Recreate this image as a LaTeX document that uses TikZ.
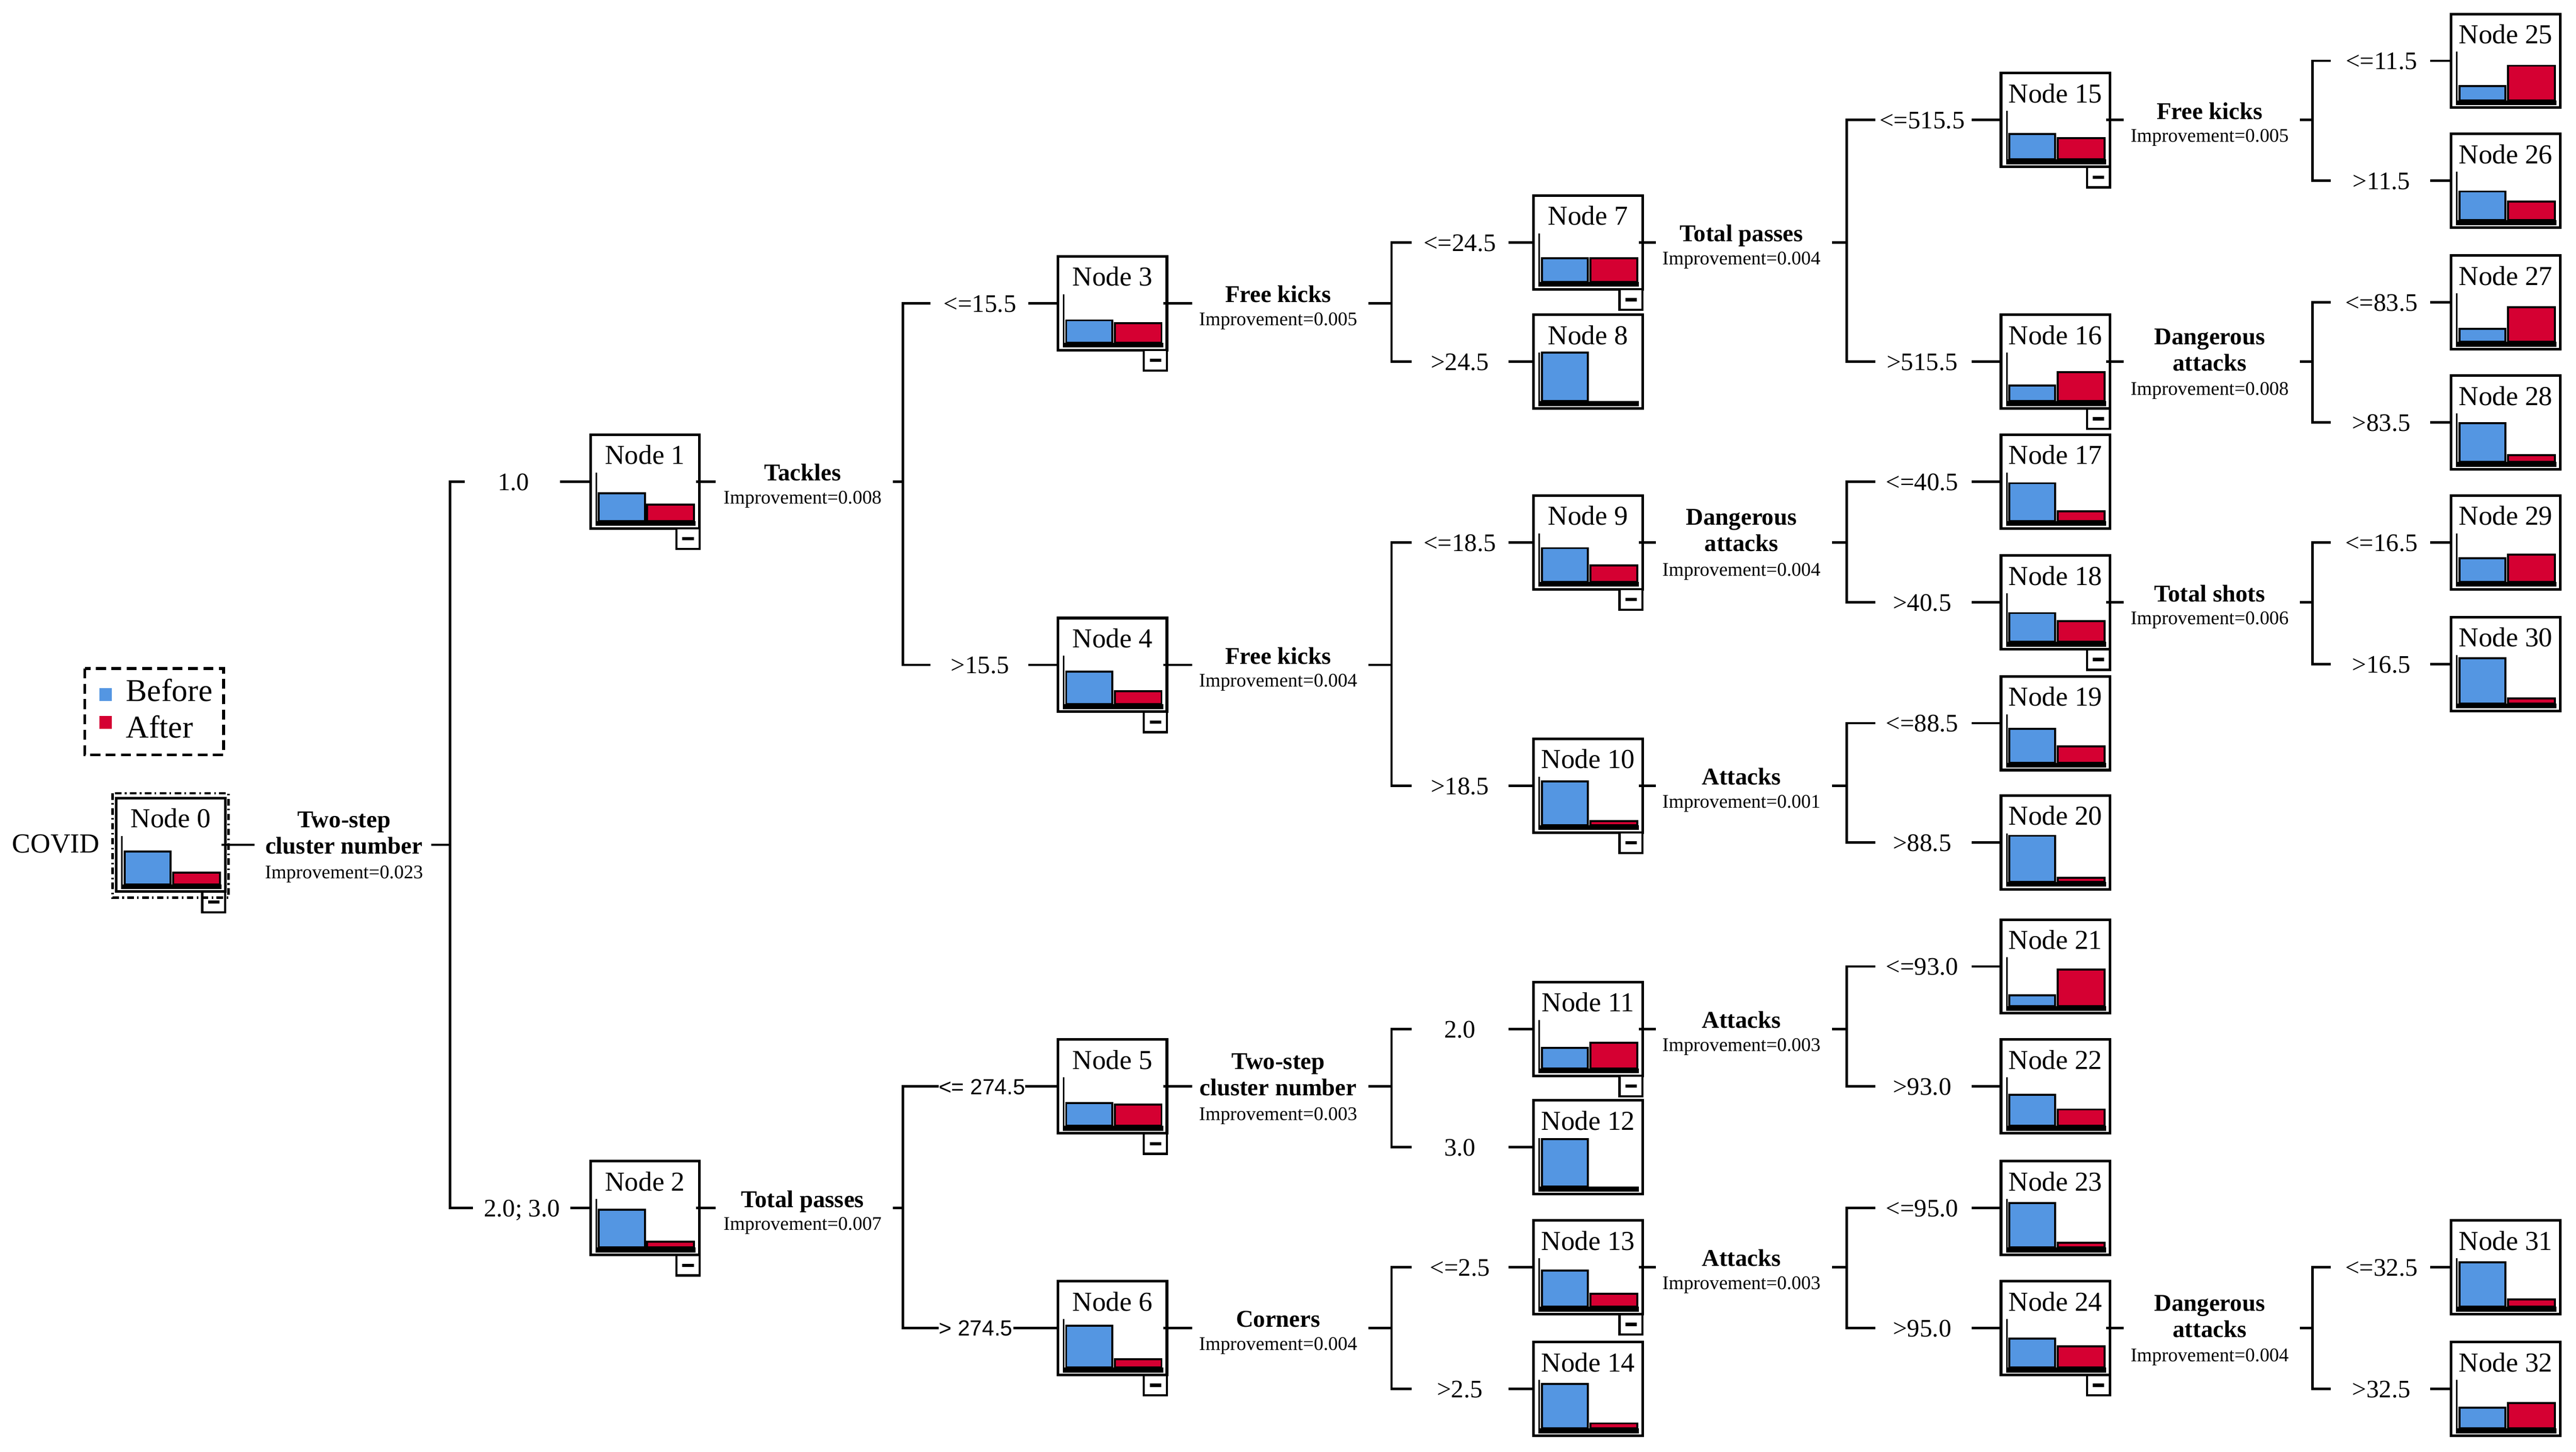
\documentclass[tikz,border=0pt]{standalone}
\usepackage{fontspec}
\setmainfont{Liberation Serif}
\newfontfamily\lsans{Liberation Sans}
\usetikzlibrary{calc}
\definecolor{cBefore}{RGB}{84,150,226}
\definecolor{cAfter}{RGB}{213,0,50}
\tikzset{
 conn/.style={line width=1.1pt},
 nbox/.style={draw, line width=1.2pt, fill=white, minimum width=49.7pt, minimum height=42.75pt, inner sep=0pt},
 nlab/.style={font=\fontsize{12.5}{14}\selectfont, anchor=base, inner sep=0pt},
 blab/.style={font=\fontsize{11.5}{13}\selectfont, anchor=base, inner sep=0pt},
 slab/.style={font=\lsans\fontsize{10}{12}\selectfont, anchor=base, inner sep=0pt},
 stitle/.style={font=\bfseries\fontsize{11}{12}\selectfont, anchor=base, inner sep=0pt},
 simp/.style={font=\fontsize{8.8}{10}\selectfont, anchor=base, inner sep=0pt},
 barB/.style={fill=cBefore, draw=black, line width=0.9pt},
 barA/.style={fill=cAfter, draw=black, line width=0.9pt},
 mbox/.style={draw, line width=1pt, fill=white},
}
% tree node: id, left x, centre y, blue height, red height, minus box
\newcommand{\tnode}[6]{%
 \node[nbox] (n#1) at ({#2+33.15},#3) {};
 \begin{scope}[shift={(#2,#3)}]
  \node[nlab] (n#1t) at (33.15,-10.5) {Node #1};
  \fill (3.2,24) rectangle (64,27);
  \draw[line width=0.7pt] (3.5,-5.5) -- (3.5,27);
  \draw[barB] (5,24) rectangle (33,{24-#4});
  \ifdim #5pt>0pt \draw[barA] (34.5,24) rectangle (63,{24-#5});\fi
  \ifnum#6=1 \draw[mbox] (52.3,28.5) rectangle (66.3,41);
   \draw[line width=1.5pt] (55.8,34.8) -- (62.8,34.8);\fi
 \end{scope}}
% parent connector: id, y, stub end, stub start, vertical x
\newcommand{\pconn}[5]{%
 \coordinate (pa#1) at (#3,#2);
 \coordinate (pb#1) at (#4,#2);
 \coordinate (pv#1) at (#5,#2);
 \draw[conn] ($(n#1.east)+(-3,0)$) -- (pa#1);
 \draw[conn] (pb#1) -- (pv#1);}
% child connector: id, y, V, left stub end, label centre, right stub start, text, style, baseline shift
\newcommand{\cconn}[9]{%
 \coordinate (cv#1) at (#3,#2);
 \coordinate (ca#1) at (#4,#2);
 \coordinate (cb#1) at (#6,#2);
 \node[#8] (b#1) at (#5,#2+#9) {#7};
 \draw[conn] (cb#1) -- (n#1.west);}
\newcommand{\vbar}[2]{\draw[conn] (ca#1) -- (cv#1) -- (cv#2) -- (ca#2);}
\newcommand{\stext}[5]{%
 \node[stitle] (s#1) at (#2,#3-0.5) {#4};
 \node[simp] (i#1) at (#2,#3+13.5) {Improvement=#5};}
\newcommand{\stextt}[6]{%
 \node[stitle] (s#1) at (#2,#3-10.5) {#4};
 \node[stitle] (s#1b) at (#2,#3+5.5) {#5};
 \node[simp] (i#1) at (#2,#3+20.5) {Improvement=#6};}
\begin{document}
\begin{tikzpicture}[x=0.75pt,y=-0.75pt]
\useasboundingbox (0,0) rectangle (1568,883.3);
% legend
\draw[dash pattern=on 4.5pt off 2.5pt, line width=1.3pt] (51.6,406.7) rectangle (136.1,459.3);
\fill[cBefore] (60.5,418.5) rectangle (68,426.5);
\fill[cAfter] (60.5,435.5) rectangle (68,443.5);
\node[anchor=base west, font=\fontsize{14.5}{16}\selectfont, inner sep=0pt] (lgB) at (76.5,426.5) {Before};
\node[anchor=base west, font=\fontsize{14.5}{16}\selectfont, inner sep=0pt] (lgA) at (76.5,449) {After};
\node[anchor=base, font=\fontsize{12.6}{14}\selectfont, inner sep=0pt] (covid) at (34,519) {COVID};
% nodes
\tnode{0}{70.8}{514}{20}{7}{1}
\tnode{1}{359.5}{293}{17}{10}{1}
\tnode{2}{359.5}{735}{23}{3.5}{1}
\tnode{3}{644}{184.5}{13.6}{12}{1}
\tnode{4}{644}{404.5}{20}{8}{1}
\tnode{5}{644}{661}{14}{13}{1}
\tnode{6}{644}{808}{25.5}{5}{1}
\tnode{7}{933.5}{147.5}{14.5}{14.5}{1}
\tnode{8}{933.5}{220}{29.5}{0}{0}
\tnode{9}{933.5}{330}{20.5}{10}{1}
\tnode{10}{933.5}{478}{26.5}{2.5}{1}
\tnode{11}{933.5}{626}{12.5}{15.5}{1}
\tnode{12}{933.5}{698}{29}{0}{0}
\tnode{13}{933.5}{771}{22}{8}{1}
\tnode{14}{933.5}{845}{27}{3}{0}
\tnode{15}{1218}{73}{15.5}{13}{1}
\tnode{16}{1218}{220}{9.5}{17.5}{1}
\tnode{17}{1218}{293}{23}{6}{0}
\tnode{18}{1218}{366.5}{17.5}{12.5}{1}
\tnode{19}{1218}{440}{20.5}{10}{0}
\tnode{20}{1218}{512.5}{28}{2.5}{0}
\tnode{21}{1218}{588}{6.5}{22}{0}
\tnode{22}{1218}{661}{19}{10}{0}
\tnode{23}{1218}{735}{27}{3}{0}
\tnode{24}{1218}{808}{17.5}{13}{1}
\tnode{25}{1492}{37}{8.5}{21}{0}
\tnode{26}{1492}{110}{17.5}{11.5}{0}
\tnode{27}{1492}{184}{8}{21}{0}
\tnode{28}{1492}{257}{23.5}{4}{0}
\tnode{29}{1492}{330}{14.5}{16.5}{0}
\tnode{30}{1492}{404}{27.5}{3}{0}
\tnode{31}{1492}{771}{27}{4.5}{0}
\tnode{32}{1492}{845}{12.5}{15.5}{0}
\draw[line width=1.1pt, dash pattern=on 3pt off 1.5pt on 0.8pt off 1.5pt] (68.5,482.6) rectangle (139.1,546.2);
% split texts
\stextt{0}{209.4}{514}{Two-step}{cluster number}{0.023}
\stext{1}{488.5}{293}{Tackles}{0.008}
\stext{2}{488.5}{735}{Total passes}{0.007}
\stext{3}{778}{184.5}{Free kicks}{0.005}
\stext{4}{778}{404.5}{Free kicks}{0.004}
\stextt{5}{778}{661}{Two-step}{cluster number}{0.003}
\stext{6}{778}{808}{Corners}{0.004}
\stext{7}{1060}{147.5}{Total passes}{0.004}
\stextt{9}{1060}{330}{Dangerous}{attacks}{0.004}
\stext{10}{1060}{478}{Attacks}{0.001}
\stext{11}{1060}{626}{Attacks}{0.003}
\stext{13}{1060}{771}{Attacks}{0.003}
\stext{15}{1345}{73}{Free kicks}{0.005}
\stextt{16}{1345}{220}{Dangerous}{attacks}{0.008}
\stext{18}{1345}{366.5}{Total shots}{0.006}
\stextt{24}{1345}{808}{Dangerous}{attacks}{0.004}
% parent connectors
\pconn{0}{514}{154.8}{262.4}{274}
\pconn{1}{293}{435.6}{543.5}{549.6}
\pconn{2}{735}{435.6}{543.5}{549.6}
\pconn{3}{184.5}{725.8}{833}{847}
\pconn{4}{404.5}{725.8}{833}{847}
\pconn{5}{661}{725.8}{833}{847}
\pconn{6}{808}{725.8}{833}{847}
\pconn{7}{147.5}{1008}{1115}{1124}
\pconn{9}{330}{1008}{1115}{1124}
\pconn{10}{478}{1008}{1115}{1124}
\pconn{11}{626}{1008}{1115}{1124}
\pconn{13}{771}{1008}{1115}{1124}
\pconn{15}{73}{1292.7}{1400}{1407.5}
\pconn{16}{220}{1292.7}{1400}{1407.5}
\pconn{18}{366.5}{1292.7}{1400}{1407.5}
\pconn{24}{808}{1292.7}{1400}{1407.5}
% child connectors
\cconn{1}{293}{274}{283}{312.6}{341}{1.0}{blab}{5.3}
\cconn{2}{735}{274}{288}{317.7}{347}{2.0; 3.0}{blab}{5.3}
\cconn{3}{184.5}{549.6}{566.4}{596.5}{625.8}{<=15.5}{blab}{5.3}
\cconn{4}{404.5}{549.6}{566.4}{596.5}{625.8}{>15.5}{blab}{5.3}
\cconn{5}{661}{549.6}{571.4}{597.7}{624}{<= 274.5}{slab}{4.8}
\cconn{6}{808}{549.6}{571.4}{594}{616.7}{> 274.5}{slab}{4.8}
\cconn{7}{147.5}{847}{859.3}{888.6}{918.2}{<=24.5}{blab}{5.3}
\cconn{8}{220}{847}{859.3}{888.6}{918.2}{>24.5}{blab}{5.3}
\cconn{9}{330}{847}{859.3}{888.6}{918.2}{<=18.5}{blab}{5.3}
\cconn{10}{478}{847}{859.3}{888.6}{918.2}{>18.5}{blab}{5.3}
\cconn{11}{626}{847}{859.3}{888.6}{918.2}{2.0}{blab}{5.3}
\cconn{12}{698}{847}{859.3}{888.6}{918.2}{3.0}{blab}{5.3}
\cconn{13}{771}{847}{859.3}{888.6}{918.2}{<=2.5}{blab}{5.3}
\cconn{14}{845}{847}{859.3}{888.6}{918.2}{>2.5}{blab}{5.3}
\cconn{15}{73}{1124}{1141.5}{1170}{1200}{<=515.5}{blab}{5.3}
\cconn{16}{220}{1124}{1141.5}{1170}{1200}{>515.5}{blab}{5.3}
\cconn{17}{293}{1124}{1141.5}{1170}{1200}{<=40.5}{blab}{5.3}
\cconn{18}{366.5}{1124}{1141.5}{1170}{1200}{>40.5}{blab}{5.3}
\cconn{19}{440}{1124}{1141.5}{1170}{1200}{<=88.5}{blab}{5.3}
\cconn{20}{512.5}{1124}{1141.5}{1170}{1200}{>88.5}{blab}{5.3}
\cconn{21}{588}{1124}{1141.5}{1170}{1200}{<=93.0}{blab}{5.3}
\cconn{22}{661}{1124}{1141.5}{1170}{1200}{>93.0}{blab}{5.3}
\cconn{23}{735}{1124}{1141.5}{1170}{1200}{<=95.0}{blab}{5.3}
\cconn{24}{808}{1124}{1141.5}{1170}{1200}{>95.0}{blab}{5.3}
\cconn{25}{37}{1407.5}{1418.7}{1449.6}{1479.2}{<=11.5}{blab}{5.3}
\cconn{26}{110}{1407.5}{1418.7}{1449.6}{1479.2}{>11.5}{blab}{5.3}
\cconn{27}{184}{1407.5}{1418.7}{1449.6}{1479.2}{<=83.5}{blab}{5.3}
\cconn{28}{257}{1407.5}{1418.7}{1449.6}{1479.2}{>83.5}{blab}{5.3}
\cconn{29}{330}{1407.5}{1418.7}{1449.6}{1479.2}{<=16.5}{blab}{5.3}
\cconn{30}{404}{1407.5}{1418.7}{1449.6}{1479.2}{>16.5}{blab}{5.3}
\cconn{31}{771}{1407.5}{1418.7}{1449.6}{1479.2}{<=32.5}{blab}{5.3}
\cconn{32}{845}{1407.5}{1418.7}{1449.6}{1479.2}{>32.5}{blab}{5.3}
% brackets
\vbar{1}{2}
\vbar{3}{4}
\vbar{5}{6}
\vbar{7}{8}
\vbar{9}{10}
\vbar{11}{12}
\vbar{13}{14}
\vbar{15}{16}
\vbar{17}{18}
\vbar{19}{20}
\vbar{21}{22}
\vbar{23}{24}
\vbar{25}{26}
\vbar{27}{28}
\vbar{29}{30}
\vbar{31}{32}
\end{tikzpicture}
\end{document}
